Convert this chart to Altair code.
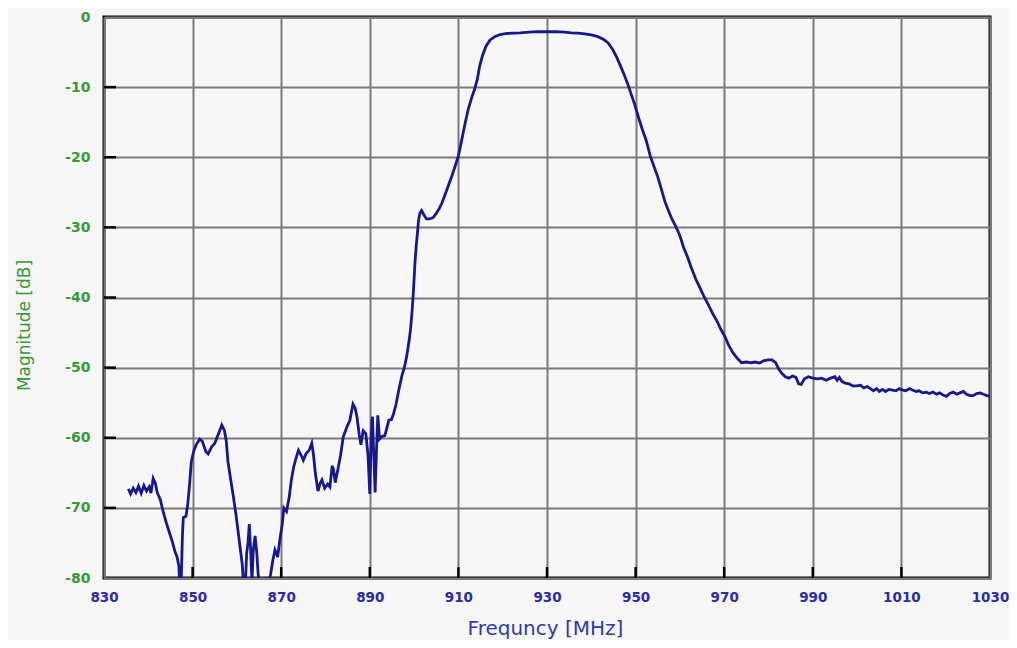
import altair as alt
import pandas as pd

# ---- data ----
freq = [835.5, 836.0, 836.6, 837.2, 837.8, 838.4, 839.0, 839.6, 840.2, 840.6,
        841.1, 841.6, 842.0, 842.7, 843.3, 844.0, 844.9, 845.5, 846.0, 846.5,
        846.9, 847.1, 847.4, 847.7, 847.9, 848.5, 848.9, 849.3, 849.7, 850.2,
        850.8, 851.6, 852.2, 853.0, 853.5, 854.3, 855.0, 855.8, 856.6, 857.2,
        857.6, 858.0, 858.6, 859.2, 859.8, 860.3, 860.8, 861.2, 861.5, 861.9,
        862.2, 862.5, 862.8, 863.1, 863.4, 863.7, 864.1, 864.5, 864.8, 865.2,
        866.2, 866.5, 867.2, 867.6, 868.1, 868.6, 869.2, 869.7, 870.2, 870.6,
        871.2, 871.8, 872.3, 872.8, 873.4, 873.9, 874.5, 875.0, 875.6, 876.3,
        876.9, 877.3, 877.7, 878.3, 878.8, 879.2, 879.8, 880.5, 881.0, 881.5,
        881.8, 882.2, 882.8, 883.4, 884.0, 884.8, 885.5, 886.2, 886.7, 887.1,
        887.6, 888.0, 888.5, 889.1, 889.6, 890.0, 890.3, 890.6, 890.9, 891.2,
        891.5, 891.8, 892.2, 892.8, 893.4, 893.9, 894.3, 894.9, 895.4, 895.9,
        896.6, 897.3, 897.8, 898.3, 898.8, 899.2, 899.6, 899.9, 900.2, 900.5,
        900.8, 901.0, 901.3, 901.7, 902.2, 902.8, 903.5, 904.3, 905.0, 905.7,
        906.3, 907.0, 907.7, 908.5, 909.2, 910.0, 910.6, 911.4, 912.2, 913.0,
        913.7, 914.3, 914.8, 915.4, 916.2, 917.1, 918.2, 919.4, 921.0, 922.5,
        924.0, 926.0, 928.0, 930.0, 932.0, 934.0, 935.5, 937.0, 938.5, 940.0,
        941.5, 942.8, 943.8, 944.8, 945.7, 946.6, 947.4, 948.2, 949.0, 949.8,
        950.6, 951.5, 952.4, 953.3, 954.2, 955.0, 955.8, 956.6, 957.4, 958.2,
        959.0, 959.9, 960.8, 961.7, 962.6, 963.6, 964.5, 965.4, 966.4, 967.4,
        968.4, 969.3, 970.2, 971.0, 972.0, 973.0, 973.9, 975.0, 976.0, 977.0,
        978.0, 979.0, 980.0, 980.8, 981.6, 982.3, 983.0, 983.8, 984.6, 985.4,
        986.2, 986.8, 987.4, 988.1, 989.0, 990.0, 991.0, 992.0, 993.0, 994.0,
        995.0, 995.5, 996.0, 996.6, 997.3, 998.2, 999.0, 999.9, 1000.8, 1001.5,
        1002.3, 1003.0, 1003.7, 1004.4, 1005.0, 1005.7, 1006.4, 1007.2, 1008.0, 1008.8,
        1009.5, 1010.3, 1011.0, 1011.8, 1012.5, 1013.3, 1014.0, 1014.8, 1015.6, 1016.3,
        1017.1, 1017.9, 1018.6, 1019.4, 1020.2, 1020.9, 1021.7, 1022.5, 1023.2, 1024.0,
        1024.7, 1025.5, 1026.2, 1027.0, 1027.8, 1028.5, 1029.3, 1030.0]

mag = [-67.3, -68.0, -67.2, -67.8, -66.9, -67.9, -66.8, -67.6, -67.0, -67.9,
       -65.8, -66.5, -67.8, -68.8, -70.4, -72.0, -73.8, -75.0, -76.2, -77.0,
       -78.3, -81.0, -81.0, -74.0, -71.4, -71.2, -69.5, -66.8, -63.5, -62.0,
       -61.0, -60.2, -60.5, -62.0, -62.3, -61.3, -60.8, -59.5, -58.2, -59.0,
       -60.5, -63.5, -66.0, -68.4, -71.0, -73.5, -76.0, -78.0, -81.0, -81.0,
       -76.5, -75.0, -72.3, -76.0, -80.5, -76.0, -74.0, -76.5, -79.5, -81.0,
       -81.0, -80.2, -80.5, -79.5, -77.5, -76.0, -77.0, -74.5, -72.5, -70.0,
       -70.5, -68.5, -66.0, -64.2, -62.8, -61.8, -62.5, -63.2, -62.3, -61.8,
       -60.8, -62.5, -65.0, -67.6, -66.5, -66.0, -67.2, -66.6, -67.0, -64.0,
       -64.5, -66.4, -64.5, -62.5, -59.9, -58.5, -57.5, -55.2, -55.8, -57.0,
       -59.5, -61.0, -59.0, -59.4, -62.5, -68.0, -60.0, -57.0, -62.5, -67.8,
       -62.0, -56.8, -60.2, -59.8, -59.7, -58.5, -57.5, -57.4, -56.5, -55.3,
       -53.0, -51.0, -50.0, -48.5, -46.5, -44.5, -41.5, -38.5, -35.0, -32.5,
       -30.5, -29.0, -28.0, -27.6, -28.2, -28.8, -28.8, -28.6, -28.0, -27.3,
       -26.5, -25.3, -24.1, -22.7, -21.4, -19.8, -18.0, -15.5, -13.2, -11.5,
       -10.2, -8.8, -7.0, -5.6, -4.2, -3.3, -2.8, -2.5, -2.35, -2.3,
       -2.25, -2.15, -2.1, -2.1, -2.1, -2.15, -2.25, -2.3, -2.4, -2.55,
       -2.8, -3.2, -3.7, -4.6, -5.7, -7.0, -8.2, -9.5, -11.0, -12.5,
       -14.2, -16.0, -17.6, -19.8, -21.4, -22.8, -24.5, -26.3, -27.6, -28.8,
       -29.8, -31.0, -32.8, -34.2, -35.8, -37.4, -38.6, -39.8, -41.0, -42.3,
       -43.4, -44.6, -45.6, -46.8, -47.9, -48.7, -49.3, -49.2, -49.3, -49.2,
       -49.35, -49.0, -48.9, -48.9, -49.3, -50.2, -50.8, -51.3, -51.5, -51.2,
       -51.4, -52.3, -52.4, -51.6, -51.3, -51.5, -51.6, -51.5, -51.8, -51.5,
       -51.3, -51.8, -51.4, -52.0, -52.2, -52.3, -52.6, -52.6, -52.5, -52.9,
       -52.7, -53.0, -53.3, -53.0, -53.4, -53.1, -53.4, -53.1, -53.2, -53.3,
       -53.0, -53.2, -53.3, -53.0, -53.2, -53.4, -53.3, -53.6, -53.5, -53.7,
       -53.5, -53.8, -53.6, -53.9, -54.1, -53.7, -53.5, -53.8, -53.6, -53.4,
       -53.8, -54.0, -54.0, -53.7, -53.6, -53.8, -54.0, -54.1]

x_ticks = [830, 850, 870, 890, 910, 930, 950, 970, 990, 1010, 1030]
y_ticks = [0, -10, -20, -30, -40, -50, -60, -70, -80]

W, H = 886, 561
GREEN = "#379937"
BLUE = "#2b2ba8"

df = pd.DataFrame({"freq": freq, "mag": mag})
xs = alt.Scale(domain=[830, 1030], nice=False, zero=False)
ys = alt.Scale(domain=[-80, 0], nice=False, zero=False)

x_axis = alt.Axis(values=x_ticks, title="Frequncy [MHz]",
                  labelExpr="'' + datum.value", labelFlush=False, labelOverlap=False,
                  grid=True, gridColor="#7a7a7a", gridWidth=2,
                  domain=False, ticks=False,
                  labelFont="DejaVu Sans", labelFontWeight="bold", labelFontSize=13.5,
                  labelColor=BLUE, titleColor="#2f3aab", titleFont="DejaVu Sans",
                  labelPadding=12, titleX=441, titleY=50,
                  titleAlign="center", titleBaseline="middle",
                  titleFontSize=20, titleFontWeight="normal")
y_axis = alt.Axis(values=y_ticks, title="Magnitude [dB]",
                  labelExpr="'' + datum.value", labelFlush=False, labelOverlap=False,
                  grid=True, gridColor="#7a7a7a", gridWidth=2,
                  domain=False, ticks=False,
                  labelFont="DejaVu Sans", labelFontWeight="bold", labelFontSize=14,
                  labelColor=GREEN, titleColor=GREEN, titleFont="DejaVu Sans",
                  labelPadding=14, titleX=-80, titleY=308,
                  titleAngle=-90, titleAlign="center", titleBaseline="middle",
                  titleFontSize=17, titleFontWeight="normal")

line = alt.Chart(df).mark_line(color="#18188a", strokeWidth=2.8, clip=True).encode(
    x=alt.X("freq:Q", scale=xs, axis=x_axis),
    y=alt.Y("mag:Q", scale=ys, axis=y_axis),
    order="freq:Q",
)

ytick_df = pd.DataFrame({"mag": y_ticks[1:-1]})
xtick_df = pd.DataFrame({"freq": x_ticks[1:-1]})

yt = alt.Chart(ytick_df).mark_rule(color="black", strokeWidth=2.5).encode(
    y=alt.Y("mag:Q", scale=ys, axis=y_axis),
    x=alt.value(0), x2=alt.value(12),
)
xt = alt.Chart(xtick_df).mark_rule(color="black", strokeWidth=2.5).encode(
    x=alt.X("freq:Q", scale=xs, axis=x_axis),
    y=alt.value(H), y2=alt.value(H - 11),
)

chart = alt.layer(line, yt, xt).properties(
    width=W, height=H,
    autosize=alt.AutoSizeParams(type="none"),
    padding={"left": 96, "top": 9, "right": 19, "bottom": 62},
    background="#f7f7f7",
).configure_view(
    stroke="black", strokeWidth=3, fill="#f7f7f7",
)

chart.save("out.html", embed_options={"renderer": "svg", "actions": False})
